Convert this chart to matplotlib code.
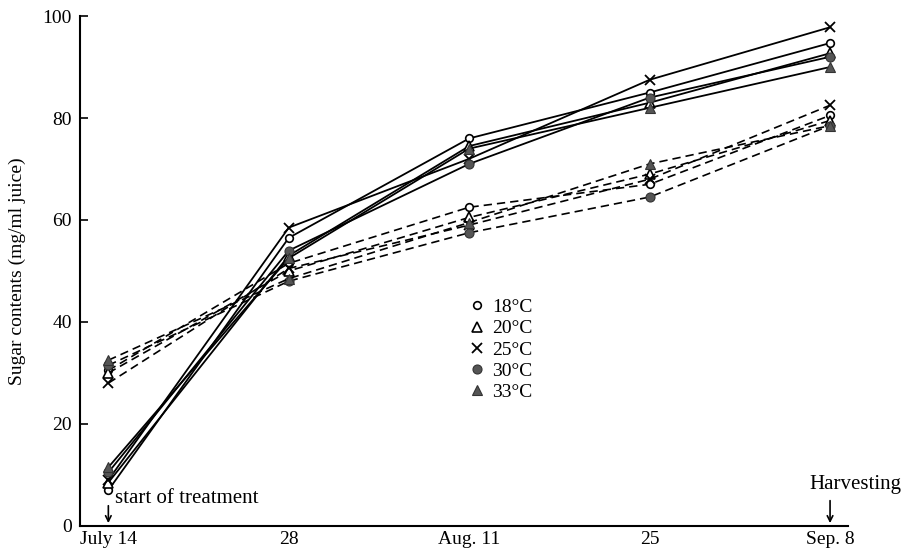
import matplotlib
matplotlib.use('Agg')
from matplotlib import pyplot as plt

# days after July 14
days = [0, 14, 28, 42, 56]
day_labels = ['July 14', '28', 'Aug. 11', '25', 'Sep. 8']
temps = ['18°C', '20°C', '25°C', '30°C', '33°C']

# solid lines
solid = {
    '18°C': [7.0, 56.5, 76.0, 85.0, 94.7],
    '20°C': [8.5, 53.0, 74.5, 83.0, 92.7],
    '25°C': [9.0, 58.5, 72.0, 87.5, 97.8],
    '30°C': [10.5, 54.0, 71.0, 84.0, 92.0],
    '33°C': [11.5, 52.5, 74.0, 82.0, 90.0],
}

# dashed lines
dashed = {
    '18°C': [30.5, 51.5, 62.5, 67.0, 80.5],
    '20°C': [30.0, 50.0, 60.5, 69.0, 79.5],
    '25°C': [28.0, 50.5, 59.0, 68.0, 82.5],
    '30°C': [31.5, 48.0, 57.5, 64.5, 78.5],
    '33°C': [32.5, 48.5, 59.5, 71.0, 78.5],
}

grey = '#555555'
styles = {
    '18°C': dict(marker='o', mfc='white', mec='black', ms=5.5, mew=1.2),
    '20°C': dict(marker='^', mfc='white', mec='black', ms=6.5, mew=1.2),
    '25°C': dict(marker='x', mfc='none', mec='black', ms=7, mew=1.3),
    '30°C': dict(marker='o', mfc=grey, mec='#333333', ms=6.5, mew=0.8),
    '33°C': dict(marker='^', mfc=grey, mec='#333333', ms=7, mew=0.8),
}

plt.rcParams['font.family'] = ['Liberation Serif', 'DejaVu Serif']

fig = plt.figure(figsize=(9.09, 5.53), dpi=100)
ax = fig.add_axes([0.088, 0.049, 0.845, 0.922])

handles = []
for t in temps:
    ax.plot(days, solid[t], color='black', lw=1.3, ls='-', **styles[t])
    ax.plot(days, dashed[t], color='black', lw=1.2, ls=(0, (5, 3)), **styles[t])
    handles.append(plt.Line2D([], [], ls='none', **styles[t]))

ax.legend(handles, temps, loc='upper left', bbox_to_anchor=(0.482, 0.48),
          frameon=False, fontsize=14, handletextpad=0.25, labelspacing=0.18,
          handlelength=1.0)

ax.set_xlim(-2.2, 57.4)
ax.set_ylim(0, 100)
ax.set_xticks(days)
ax.set_xticklabels(day_labels, fontsize=14)
ax.set_yticks([0, 20, 40, 60, 80, 100])
ax.tick_params(axis='x', length=0, pad=4)
ax.tick_params(axis='y', direction='in', length=6, width=1.2, labelsize=14, pad=6)
ax.set_ylabel('Sugar contents (mg/ml juice)', fontsize=14, labelpad=12)

for s in ['top', 'right']:
    ax.spines[s].set_visible(False)
for s in ['left', 'bottom']:
    ax.spines[s].set_linewidth(1.5)

# arrows and notes
ax.annotate('', xy=(0, 0), xytext=(0, 4.5),
            arrowprops=dict(arrowstyle='->', color='black', lw=1.2))
ax.text(0.5, 3.6, 'start of treatment', fontsize=15, ha='left', va='bottom')
ax.annotate('', xy=(56, 0), xytext=(56, 5.5),
            arrowprops=dict(arrowstyle='->', color='black', lw=1.2))
ax.text(58.0, 6.2, 'Harvesting', fontsize=15, ha='center', va='bottom', clip_on=False)

fig.savefig('out.png', dpi=100)
